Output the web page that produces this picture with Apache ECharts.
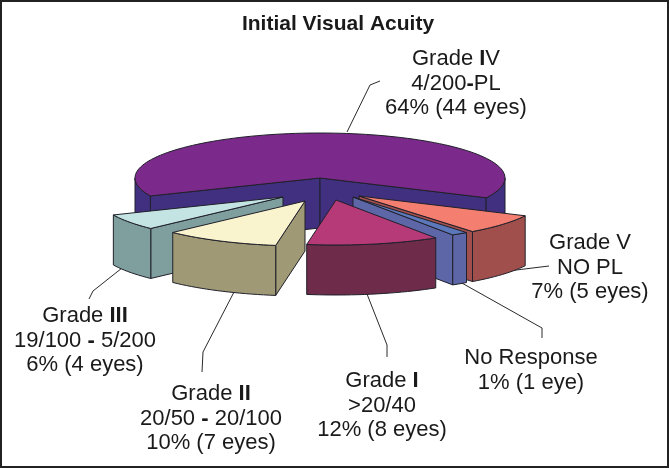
<!DOCTYPE html>
<html>
<head>
<meta charset="utf-8">
<style>
  html, body { margin: 0; padding: 0; background: #fff; }
  #chart { width: 669px; height: 468px; }
</style>
<script src="https://cdn.jsdelivr.net/npm/echarts@6/dist/echarts.min.js"></script>
</head>
<body>
<div id="chart"></div>
<script>
// data
const categories = ['Grade IV', 'Grade V', 'No Response', 'Grade I', 'Grade II', 'Grade III'];
const eyes = [44, 5, 1, 8, 7, 4];
const percents = [64, 7, 1, 12, 10, 6];
const acuity = ['4/200{b|-}PL', 'NO PL', '', '>20/40', '20/50 {b|-} 20/100', '19/100 {b|-} 5/200'];

// colours per slice
const topColors = ['#7b2a8c', '#f47f70', '#5b78ba', '#b63a78', '#f9f3ce', '#c4e4e4'];
const wallColors = ['#41307f', '#a04f4c', '#5d66a6', '#6e2b4a', '#9f9975', '#7f9f9e'];

// pseudo 3D layout, pixels
const center = [320, 178];
const rx = 185;
const ry = 45;
const depth = 50;
const startAngle = 156.5; // clockwise from 3 o'clock
const explode = [[0, 0], [39, 18], [33, 19], [16, 22], [-15, 23], [-37, 19]];
const drawOrder = [0, 1, 5, 2, 4, 3];

const labelPos = [[456, 59], [590, 243], [531, 358], [382, 381], [211, 394], [85, 316]];
const leaders = [
  [[380, 81], [370, 85], [347, 132]],
  [[508, 271], [549, 266]],
  [[460, 282], [542, 328], [542, 338]],
  [[367, 294], [387, 345], [387, 357]],
  [[234, 292], [203, 352], [202, 372]],
  [[122, 268], [93, 291], [89, 299]]
];

const total = eyes.reduce((a, b) => a + b, 0);
const sliceAngles = [];
let cursor = startAngle;
eyes.forEach((v) => {
  const sweep = v / total * 360;
  sliceAngles.push([cursor, cursor + sweep]);
  cursor += sweep;
});

const rad = (d) => d * Math.PI / 180;

const arcPoints = (cx, cy, a0, a1) => {
  const pts = [];
  const n = Math.max(2, Math.ceil((a1 - a0) / 2));
  for (let i = 0; i <= n; i++) {
    const a = rad(a0 + (a1 - a0) * i / n);
    pts.push([cx + rx * Math.cos(a), cy + ry * Math.sin(a)]);
  }
  return pts;
};

const face = (points, fill) => ({
  type: 'polygon',
  shape: { points },
  style: { fill, stroke: '#20202a', lineWidth: 1, lineJoin: 'round' }
});

const renderSlice = (params, api) => {
  const idx = api.value(0);
  const [a0, a1] = sliceAngles[idx];
  const cx = center[0] + explode[idx][0];
  const cy = center[1] + explode[idx][1];
  const children = [];
  const down = (p) => [p[0], p[1] + depth];

  // cut faces, only the ones turned to the viewer
  [a0, a1].forEach((a, i) => {
    const facing = i === 0 ? -Math.cos(rad(a)) > 0 : Math.cos(rad(a)) > 0;
    if (!facing) return;
    const rim = [cx + rx * Math.cos(rad(a)), cy + ry * Math.sin(rad(a))];
    children.push(face([[cx, cy], rim, down(rim), [cx, cy + depth]], wallColors[idx]));
  });

  // outer wall, front half of the ellipse only
  [0, 360].forEach((base) => {
    const from = Math.max(a0, base);
    const to = Math.min(a1, base + 180);
    if (to <= from) return;
    const rimTop = arcPoints(cx, cy, from, to);
    children.push(face(rimTop.concat(rimTop.map(down).reverse()), wallColors[idx]));
  });

  children.push(face([[cx, cy]].concat(arcPoints(cx, cy, a0, a1)), topColors[idx]));
  return { type: 'group', children };
};

// the roman I strokes are heavier in the original, the V is not
const romanRich = (name) => name.replace(/^Grade (I+)/, 'Grade {b|$1}');

const labelText = (i) => {
  const count = eyes[i] + (eyes[i] === 1 ? ' eye' : ' eyes');
  const lines = [romanRich(categories[i])];
  if (acuity[i]) lines.push(acuity[i]);
  lines.push(percents[i] + '% (' + count + ')');
  return lines.join('\n');
};

const labelFont = 'Liberation Sans, Arial, sans-serif';

const labelGraphics = categories.map((c, i) => ({
  type: 'text',
  x: labelPos[i][0],
  y: labelPos[i][1] - 12,
  style: {
    text: labelText(i),
    align: 'center',
    verticalAlign: 'top',
    fontFamily: labelFont,
    fontSize: 22,
    lineHeight: 24.5,
    fill: '#1a1a1a',
    rich: {
      b: { fontFamily: labelFont, fontSize: 22, fontWeight: 'bold', lineHeight: 24.5, fill: '#1a1a1a' }
    }
  }
}));

const leaderGraphics = leaders.map((pts) => ({
  type: 'polyline',
  shape: { points: pts },
  style: { fill: 'none', stroke: '#2a2a2a', lineWidth: 1 }
}));

const chart = echarts.init(document.getElementById('chart'), null, { renderer: 'canvas' });

chart.setOption({
  backgroundColor: '#fff',
  animation: false,
  title: {
    text: 'Initial Visual Acuity',
    left: 333,
    top: 9,
    textAlign: 'center',
    textStyle: { fontFamily: labelFont, fontSize: 21, fontWeight: 'bold', color: '#1a1a1a' }
  },
  graphic: [
    {
      type: 'rect',
      shape: { x: 1, y: 1, width: 667, height: 466 },
      style: { fill: 'none', stroke: '#222', lineWidth: 2 }
    },
    ...leaderGraphics,
    ...labelGraphics
  ],
  series: [
    {
      type: 'custom',
      coordinateSystem: 'none',
      renderItem: renderSlice,
      data: drawOrder.map((i) => [i, eyes[i]])
    }
  ]
});
</script>
</body>
</html>
